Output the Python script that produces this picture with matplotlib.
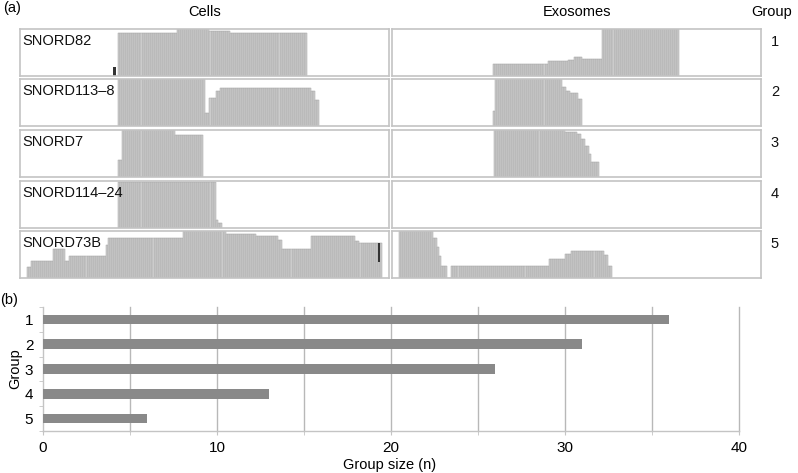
import numpy as np
import matplotlib.pyplot as plt

plt.rcParams['font.family'] = ['Liberation Sans', 'DejaVu Sans']

# coverage tracks: step edges (0-100 along each box) and relative read depth
snord82_cells_x = [26.6, 42.3, 51.5, 56.9, 78.0]
snord82_cells_h = [0.91, 1.0, 0.96, 0.91]
snord82_exo_x = [27.3, 41.9, 47.8, 49.1, 51.4, 56.8, 78.0]
snord82_exo_h = [0.25, 0.31, 0.34, 0.40, 0.36, 1.0]

snord113_cells_x = [26.6, 50.4, 51.5, 53.1, 54.2, 78.6, 79.9, 80.8, 81.3]
snord113_cells_h = [1.0, 0.28, 0.59, 0.74, 0.81, 0.74, 0.55, 0.28]
snord113_exo_x = [27.3, 27.9, 45.8, 47.2, 48.2, 50.5, 51.7]
snord113_exo_h = [0.31, 1.0, 0.84, 0.75, 0.70, 0.58]

snord7_cells_x = [26.6, 27.6, 42.0, 49.9]
snord7_cells_h = [0.37, 1.0, 0.89]
snord7_exo_x = [27.6, 46.9, 50.1, 51.4, 52.6, 53.2, 54.1, 56.2]
snord7_exo_h = [1.0, 0.96, 0.91, 0.81, 0.66, 0.49, 0.32]

snord114_cells_x = [26.6, 52.8, 53.7, 54.5]
snord114_cells_h = [0.98, 0.17, 0.11]
snord114_exo_x = []
snord114_exo_h = []

snord73_cells_x = [1.8, 3.0, 9.0, 12.5, 13.4, 23.0, 23.9, 44.3, 55.6,
                   64.2, 70.0, 70.9, 78.8, 90.8, 92.1, 98.0]
snord73_cells_h = [0.23, 0.37, 0.61, 0.37, 0.46, 0.70, 0.86, 1.0, 0.94,
                   0.90, 0.81, 0.61, 0.90, 0.79, 0.74]
snord73_exo_x = [1.8, 11.0, 12.0, 12.8, 13.6, 14.9, 16.0, 42.5, 47.0,
                 48.6, 57.1, 58.5, 59.6]
snord73_exo_h = [1.0, 0.85, 0.67, 0.46, 0.25, 0.0, 0.25, 0.40, 0.51,
                 0.58, 0.49, 0.25]

# dark marks (x0, x1, bottom, top)
snord82_mark = (25.3, 26.1, 0.0, 0.2)
snord73_mark = (97.0, 97.5, 0.33, 0.74)

track_names = ['SNORD82', 'SNORD113\u20138', 'SNORD7', 'SNORD114\u201324', 'SNORD73B']
cells_x = [snord82_cells_x, snord113_cells_x, snord7_cells_x, snord114_cells_x, snord73_cells_x]
cells_h = [snord82_cells_h, snord113_cells_h, snord7_cells_h, snord114_cells_h, snord73_cells_h]
exo_x = [snord82_exo_x, snord113_exo_x, snord7_exo_x, snord114_exo_x, snord73_exo_x]
exo_h = [snord82_exo_h, snord113_exo_h, snord7_exo_h, snord114_exo_h, snord73_exo_h]

# panel b
groups = [1, 2, 3, 4, 5]
group_size = [36, 31, 26, 13, 6]

W, H = 798, 473
fig = plt.figure(figsize=(W / 100, H / 100), dpi=100)


def box(left, top, width, height):
    return fig.add_axes([left / W, 1 - (top + height) / H, width / W, height / H])


def draw_track(ax, edges, heights, step=0.55):
    if len(heights) == 0:
        return
    edges = np.asarray(edges)
    heights = np.asarray(heights)
    centers = np.arange(edges[0] + step / 2, edges[-1], step)
    idx = np.clip(np.searchsorted(edges, centers, side='right') - 1, 0, len(heights) - 1)
    ax.bar(centers, heights[idx], width=step, color='#cccccc',
           edgecolor='#a4a4a4', linewidth=0.35)


tops = [29, 79, 130, 181, 231]
box_h = 47
for i, top in enumerate(tops):
    for left, xs, hs in [(20, cells_x[i], cells_h[i]), (392, exo_x[i], exo_h[i])]:
        ax = box(left, top, 369, box_h)
        draw_track(ax, xs, hs)
        ax.set_xlim(0, 100)
        ax.set_ylim(0, 1.0)
        ax.set_xticks([])
        ax.set_yticks([])
        for s in ax.spines.values():
            s.set_color('#c4c4c4')
            s.set_linewidth(1.2)
        if left == 20:
            ax.text(0.006, 0.75, track_names[i], transform=ax.transAxes,
                    fontsize=10.5, va='center', ha='left', color='#111111')
            if i == 0:
                m = snord82_mark
            elif i == 4:
                m = snord73_mark
            else:
                m = None
            if m is not None:
                ax.bar((m[0] + m[1]) / 2, m[3] - m[2], width=m[1] - m[0],
                       bottom=m[2], color='#333333')
    fig.text(775 / W, 1 - (top + 13) / H, str(groups[i]), fontsize=10.5,
             ha='center', va='center', color='#111111')

fig.text(3 / W, 1 - 8 / H, '(a)', fontsize=10.5, va='center', ha='left')
fig.text(205 / W, 1 - 12 / H, 'Cells', fontsize=10.5, va='center', ha='center')
fig.text(577 / W, 1 - 12 / H, 'Exosomes', fontsize=10.5, va='center', ha='center')
fig.text(772 / W, 1 - 12 / H, 'Group', fontsize=10.5, va='center', ha='center')

# (b) group sizes
axb = box(43, 307, 696, 124)
axb.barh(groups, group_size, height=0.38, color='#898989', zorder=3)
axb.set_xlim(0, 40)
axb.set_ylim(5.5, 0.5)
axb.set_xticks([0, 10, 20, 30, 40])
axb.set_xticks([5, 15, 25, 35], minor=True)
axb.set_yticks(groups)
axb.set_yticks([0.5, 1.5, 2.5, 3.5, 4.5, 5.5], minor=True)
for x in range(5, 45, 5):
    axb.axvline(x, color='#b8b8b8', linewidth=1.0, zorder=1, clip_on=False)
axb.tick_params(axis='x', which='both', length=3, color='#c4c4c4',
                labelsize=11, pad=4)
axb.tick_params(axis='y', which='major', length=0, labelsize=11, pad=7)
axb.tick_params(axis='y', which='minor', length=3, color='#c4c4c4')
for s in ['top', 'right']:
    axb.spines[s].set_visible(False)
for s in ['left', 'bottom']:
    axb.spines[s].set_color('#c4c4c4')
    axb.spines[s].set_linewidth(1.0)
fig.text(390 / W, 1 - 465 / H, 'Group size (n)', fontsize=10.5, ha='center', va='center')
fig.text(15 / W, 1 - 369 / H, 'Group', fontsize=10.5, ha='center', va='center',
         rotation=90)
fig.text(0 / W, 1 - 300 / H, '(b)', fontsize=10.5, va='center', ha='left')

fig.savefig('out.png', dpi=100)
